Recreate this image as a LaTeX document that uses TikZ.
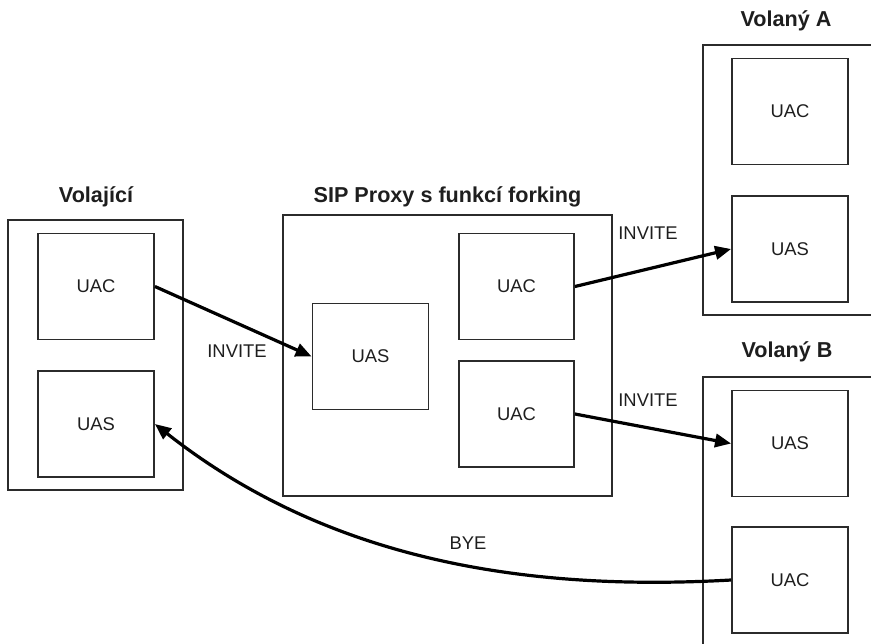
\documentclass[tikz,border=0pt]{standalone}
\usepackage{fontspec}
\setmainfont{Liberation Sans}
\usetikzlibrary{arrows.meta}
\definecolor{boxline}{HTML}{2B2B2B}
\definecolor{ink}{HTML}{1E1E1E}
\tikzset{
  agent/.style={draw=boxline, line width=1.4pt, minimum width=87pt, minimum height=79.5pt,
    inner sep=0pt, font=\fontsize{13.8}{16}\selectfont, text=ink},
  group/.style={draw=boxline, line width=1.4pt, inner sep=0pt},
  frame/.style={draw=boxline, line width=1.4pt},
  heading/.style={font=\bfseries\fontsize{16.2}{19}\selectfont, text=ink, inner sep=0pt},
  msg/.style={font=\fontsize{13.8}{16}\selectfont, text=ink, inner sep=0pt},
  flow/.style={line width=2.4pt, -{Triangle[length=12pt,width=10pt]}}
}
\begin{document}
\begin{tikzpicture}[x=0.75pt, y=-0.75pt]
\useasboundingbox (0,0) rectangle (871,643);

% calling party
\node[group, minimum width=131.25pt, minimum height=202.5pt] (caller) at (95.5,355) {};
\node[heading] (callerT) at (96,197) {Volající};
\node[agent] (cUAC) at (96,286.5) {UAC};
\node[agent] (cUAS) at (96,424) {UAS};

% forking proxy
\node[group, minimum width=246.75pt, minimum height=210.75pt] (proxy) at (447.5,355.5) {};
\node[heading] (proxyT) at (447.5,197) {SIP Proxy s funkcí forking};
\node[agent] (pUAS) at (370.5,356.5) {UAS};
\node[agent, minimum width=86.25pt] (pUAC1) at (516.5,286.5) {UAC};
\node[agent, minimum width=86.25pt] (pUAC2) at (516.5,414) {UAC};

% callee A (frame open to the right)
\draw[frame] (885,45) -- (703,45) -- (703,315) -- (885,315);
\node[heading] (aT) at (786,21) {Volaný A};
\node[agent] (aUAC) at (790,111.5) {UAC};
\node[agent] (aUAS) at (790,249) {UAS};

% callee B (frame open to the right and bottom)
\draw[frame] (885,377) -- (703,377) -- (703,650);
\node[heading] (bT) at (787,352) {Volaný B};
\node[agent] (bUAS) at (790,443.5) {UAS};
\node[agent] (bUAC) at (790,580) {UAC};

% messages
\draw[flow] (cUAC.east) -- (pUAS.west);
\node[msg] (inv1) at (237,351) {INVITE};
\draw[flow] (pUAC1.east) -- (aUAS.west);
\node[msg] (inv2) at (648,233) {INVITE};
\draw[flow] (pUAC2.east) -- (bUAS.west);
\node[msg] (inv3) at (648,400) {INVITE};
\draw[flow] (bUAC.west) .. controls (520,592) and (325,558) .. (cUAS.east);
\node[msg] (bye) at (468,543) {BYE};
\end{tikzpicture}
\end{document}
